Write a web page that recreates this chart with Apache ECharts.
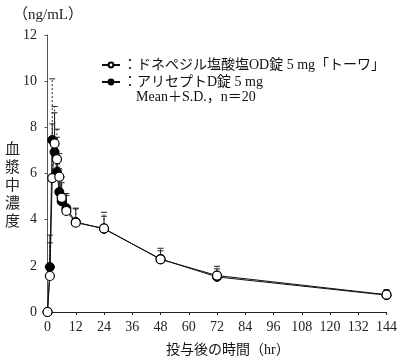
<!DOCTYPE html>
<html><head><meta charset="utf-8">
<script src="https://cdn.jsdelivr.net/npm/echarts@6/dist/echarts.min.js"></script>
<style>html,body{margin:0;padding:0;background:#fff}#c{width:400px;height:362px}</style>
</head><body><div id="c"></div>
<script>
const times = [0, 1, 2, 3, 4, 5, 6, 8, 12, 24, 48, 72, 144];
const genericMean = [0, 1.56, 5.8, 7.3, 6.62, 5.86, 4.95, 4.38, 3.87, 3.62, 2.28, 1.58, 0.75];
const genericSD   = [0, 1.44, 4.3, 1.6, 1.3, 1.0, 0.9, 0.75, 0.6, 0.7, 0.48, 0.4, 0.22];
const ariceptMean = [0, 1.95, 7.45, 6.93, 6.07, 5.2, 4.8, 4.5, 3.9, 3.6, 2.3, 1.52, 0.73];
const ariceptSD   = [0, 1.38, 0.7, 1.7, 1.5, 1.0, 0.8, 0.55, 0.6, 0.55, 0.35, 0.35, 0.2];
const xTicks = [0, 12, 24, 36, 48, 60, 72, 84, 96, 108, 120, 132, 144];
const nameGeneric = 'ドネペジル塩酸塩OD錠 5 mg「トーワ」';
const nameAricept = 'アリセプトD錠 5 mg';

const FONT = '"Liberation Serif", "Noto Sans CJK JP", serif';
const chart = echarts.init(document.getElementById('c'), null, {renderer: 'canvas'});

function errSeries(mean, sd, dashed, z) {
  return {
    type: 'custom', z: z, silent: true,
    data: times.map((t, i) => [t, mean[i], mean[i] + sd[i]]),
    renderItem: function (params, api) {
      const p0 = api.coord([api.value(0), api.value(1)]);
      const p1 = api.coord([api.value(0), api.value(2)]);
      const style = {stroke: '#222', lineWidth: 1, lineDash: dashed ? [2, 2] : null};
      return {type: 'group', children: [
        {type: 'line', shape: {x1: p0[0], y1: p0[1], x2: p1[0], y2: p1[1]}, style: style},
        {type: 'line', shape: {x1: p1[0] - 3, y1: p1[1], x2: p1[0] + 3, y2: p1[1]}, style: {stroke: '#222', lineWidth: 1}}
      ]};
    }
  };
}

chart.setOption({
  animation: false,
  textStyle: {fontFamily: FONT},
  grid: {left: 44, right: 12, top: 35, bottom: 50},
  legend: {
    orient: 'vertical', left: 96, top: 53, itemGap: 3,
    itemWidth: 18, itemHeight: 6,
    textStyle: {fontFamily: FONT, fontSize: 14, color: '#111', padding: [0, 0, 0, -2]},
    formatter: n => '：' + n,
    data: [nameGeneric, nameAricept]
  },
  xAxis: {
    type: 'value', min: -1.5, max: 144,
    splitLine: {show: false},
    axisLine: {lineStyle: {color: '#222', width: 1}},
    axisTick: {length: 3, lineStyle: {color: '#222'}, customValues: xTicks},
    axisLabel: {customValues: xTicks, fontFamily: FONT, fontSize: 14, color: '#222', margin: 8}
  },
  yAxis: {
    type: 'value', min: 0, max: 12, interval: 2,
    splitLine: {show: false},
    axisLine: {show: true, lineStyle: {color: '#555', width: 1}},
    axisTick: {show: true, length: 3, lineStyle: {color: '#555'}},
    axisLabel: {fontFamily: FONT, fontSize: 14, color: '#222', margin: 7}
  },
  graphic: [
    {type: 'text', left: 13, top: 8, style: {text: '（ng/mL）', font: '15px ' + FONT, fill: '#222'}},
    {type: 'text', left: 5, top: 141, style: {text: '血\n漿\n中\n濃\n度', font: '15px ' + FONT, fill: '#222', lineHeight: 18}},
    {type: 'text', left: 136, top: 90, style: {text: 'Mean＋S.D.，n＝20', font: '14px ' + FONT, fill: '#111'}},
    {type: 'text', left: 166, top: 343, style: {text: '投与後の時間（hr）', font: '14px ' + FONT, fill: '#111'}}
  ],
  series: [
    errSeries(ariceptMean, ariceptSD, false, 1),
    errSeries(genericMean, genericSD, true, 1),
    {
      name: nameAricept, type: 'line', z: 3,
      data: times.map((t, i) => [t, ariceptMean[i]]),
      symbol: 'circle', symbolSize: 9,
      lineStyle: {color: '#111', width: 1},
      itemStyle: {color: '#000', borderColor: '#000', borderWidth: 1}
    },
    {
      name: nameGeneric, type: 'line', z: 4,
      data: times.map((t, i) => [t, genericMean[i]]),
      symbol: 'circle', symbolSize: 9,
      lineStyle: {color: '#111', width: 1},
      itemStyle: {color: '#fff', borderColor: '#000', borderWidth: 1.2}
    }
  ]
});
</script></body></html>
